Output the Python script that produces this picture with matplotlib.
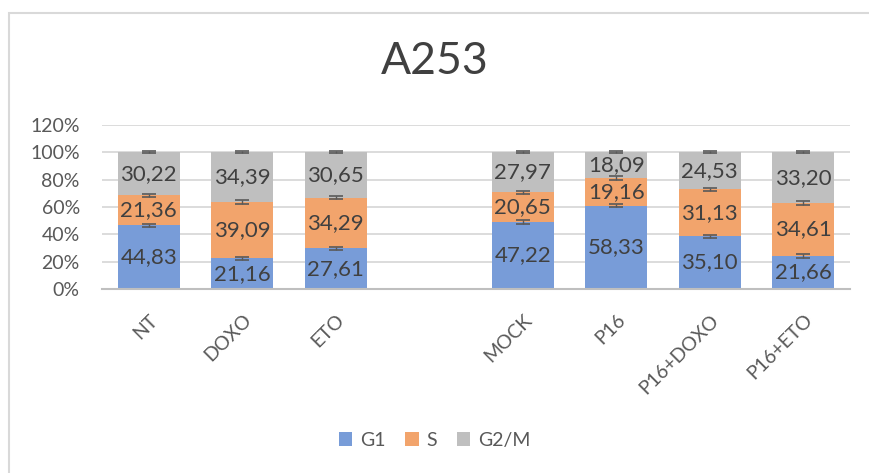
import numpy as np
import matplotlib
matplotlib.use("Agg")
import matplotlib.pyplot as plt
from matplotlib.patches import Rectangle

plt.rcParams['font.family'] = ['Lato', 'DejaVu Sans']

# data (blank slot between ETO and MOCK)
categories = ['NT', 'DOXO', 'ETO', '', 'MOCK', 'P16', 'P16+DOXO', 'P16+ETO']
g1 = [44.83, 21.16, 27.61, np.nan, 47.22, 58.33, 35.10, 21.66]
s = [21.36, 39.09, 34.29, np.nan, 20.65, 19.16, 31.13, 34.61]
g2m = [30.22, 34.39, 30.65, np.nan, 27.97, 18.09, 24.53, 33.20]
err_g1 = [1.2, 1.2, 1.2, np.nan, 1.4, 1.2, 1.2, 1.2]
err_s = [1.2, 1.2, 1.2, np.nan, 1.2, 1.4, 1.2, 1.2]
err_g2m = [0.8, 0.8, 0.8, np.nan, 0.8, 0.8, 0.8, 0.8]

col_g1 = '#789cd8'
col_s = '#f2a46c'
col_g2m = '#bfbfbf'
txt = '#404040'

g1 = np.array(g1); s = np.array(s); g2m = np.array(g2m)
tot = g1 + s + g2m
p1 = g1 / tot
p2 = s / tot
p3 = g2m / tot
x = np.arange(len(categories))

fig = plt.figure(figsize=(8.69, 4.73), dpi=100)
# chart area border
fig.patches.append(Rectangle((9/869, -0.1), 1.0, (473-13)/473 + 0.1,
                             transform=fig.transFigure, fill=False,
                             edgecolor='#d9d9d9', linewidth=1.5))
ax = fig.add_axes([102/869, (473-289)/473, 748/869, 164/473])

w = 0.66
ax.bar(x, p1, w, color=col_g1, label='G1', zorder=2)
ax.bar(x, p2, w, bottom=p1, color=col_s, label='S', zorder=2)
ax.bar(x, p3, w, bottom=p1 + p2, color=col_g2m, label='G2/M', zorder=2)

ekw = dict(fmt='none', ecolor='#595959', elinewidth=1, capsize=5, capthick=1.2, zorder=3)
ax.errorbar(x, p1, yerr=np.array(err_g1) / 100, **ekw)
ax.errorbar(x, p1 + p2, yerr=np.array(err_s) / 100, **ekw)
ax.errorbar(x, p1 + p2 + p3, yerr=np.array(err_g2m) / 100, **ekw)

for vals, bot, h in [(g1, 0 * p1, p1), (s, p1, p2), (g2m, p1 + p2, p3)]:
    for xi, v, b, hh in zip(x, vals, bot, h):
        if np.isnan(v):
            continue
        ax.text(xi, b + hh / 2, f'{v:.2f}'.replace('.', ','), ha='center', va='center',
                fontsize=16, color=txt, zorder=4)

ax.set_xlim(-0.5, len(categories) - 0.5)
ax.set_ylim(0, 1.2)
ax.set_yticks(np.arange(0, 1.21, 0.2))
ax.set_yticklabels([f'{int(round(t*100))}%' for t in np.arange(0, 1.21, 0.2)])
ax.set_xticks(x)
ax.set_xticklabels(categories, rotation=45, ha='right', rotation_mode='anchor')
ax.tick_params(axis='y', length=0, pad=16, labelsize=14, labelcolor='#595959')
ax.tick_params(axis='x', length=0, pad=16, labelsize=14, labelcolor='#595959')
ax.grid(axis='y', color='#d9d9d9', linewidth=1.3, zorder=0)
ax.set_axisbelow(True)
for sp in ['top', 'right', 'left']:
    ax.spines[sp].set_visible(False)
ax.spines['bottom'].set_color('#bfbfbf')
ax.spines['bottom'].set_linewidth(1.5)

fig.text(0.5, (473-62)/473, 'A253', ha='center', va='center', fontsize=32, color=txt)

fig.legend(loc='center', bbox_to_anchor=(0.5, (473-440)/473), ncol=3, frameon=False,
           fontsize=14, handlelength=0.7, handleheight=0.7, handletextpad=0.4,
           columnspacing=1.0, labelcolor='#595959')

fig.savefig('out.png', dpi=100)
